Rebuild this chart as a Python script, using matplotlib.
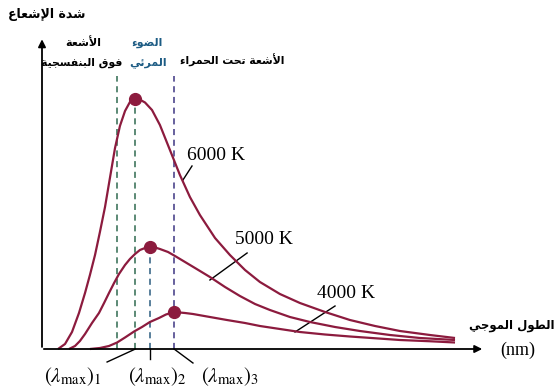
import numpy as np
import matplotlib
matplotlib.use("Agg")
import matplotlib.pyplot as plt

plt.rcParams["mathtext.fontset"] = "stix"

# intensity (arbitrary units) against wavelength (nm) for three temperatures
wl_6000 = [85, 122, 159, 196, 228, 254, 281, 307, 334, 360, 387, 413, 440, 466, 495,
           520, 546, 583, 625, 678, 731, 784, 837, 917, 996, 1076, 1155, 1261, 1367, 1500,
           1632, 1765, 1897, 2056, 2189]
i_6000 = [0, 2, 6.8, 14.4, 22.4, 29.6, 37.6, 46.8, 56.8, 68.4, 80.4, 89.2, 95.2, 98.8, 100,
          99.7, 98.6, 95.6, 89.6, 79.6, 69.6, 60.8, 53.6, 44.4, 37.6, 31.6, 26.8, 22, 18.4,
          14.8, 11.6, 9.2, 7.2, 5.6, 4.4]

wl_5000 = [143, 175, 201, 228, 265, 302, 329, 355, 382, 408, 440, 466, 493, 519, 546,
           570, 599, 625, 668, 705, 758, 811, 890, 970, 1049, 1129, 1208, 1314, 1420,
           1553, 1685, 1844, 2003, 2189]
i_5000 = [0, 1.2, 3.2, 6, 10.4, 14.4, 18.4, 22.4, 26.4, 30, 33.6, 36, 38, 39.6, 40.4,
          40.8, 40.6, 40, 38.8, 37.2, 34.8, 32.4, 28.8, 24.8, 21.2, 18, 15.6, 12.8, 10.8,
          8.8, 7.2, 5.6, 4.4, 3.6]

wl_4000 = [254, 307, 355, 398, 440, 488, 530, 572, 620, 657, 700, 758, 800, 890, 980,
           1076, 1155, 1261, 1367, 1500, 1632, 1765, 1897, 2056, 2189]
i_4000 = [0, 0.4, 1.2, 2.6, 4.6, 7, 8.8, 10.8, 12.4, 13.8, 14.8, 14.4, 14, 12.8, 11.6,
          10.4, 9.2, 8, 6.8, 5.8, 5, 4.3, 3.6, 3.1, 2.6]

temps = ["6000 K", "5000 K", "4000 K"]
uv_edge = 400   # visible band limits
ir_edge = 700

# Arabic presentation forms: isolated, final, initial, medial
FORMS = {
    "\u0621": ("\uFE80", None, None, None),
    "\u0623": ("\uFE83", "\uFE84", None, None),
    "\u0625": ("\uFE87", "\uFE88", None, None),
    "\u0626": ("\uFE89", "\uFE8A", "\uFE8B", "\uFE8C"),
    "\u0627": ("\uFE8D", "\uFE8E", None, None),
    "\u0628": ("\uFE8F", "\uFE90", "\uFE91", "\uFE92"),
    "\u0629": ("\uFE93", "\uFE94", None, None),
    "\u062A": ("\uFE95", "\uFE96", "\uFE97", "\uFE98"),
    "\u062C": ("\uFE9D", "\uFE9E", "\uFE9F", "\uFEA0"),
    "\u062D": ("\uFEA1", "\uFEA2", "\uFEA3", "\uFEA4"),
    "\u062F": ("\uFEA9", "\uFEAA", None, None),
    "\u0631": ("\uFEAD", "\uFEAE", None, None),
    "\u0633": ("\uFEB1", "\uFEB2", "\uFEB3", "\uFEB4"),
    "\u0634": ("\uFEB5", "\uFEB6", "\uFEB7", "\uFEB8"),
    "\u0636": ("\uFEBD", "\uFEBE", "\uFEBF", "\uFEC0"),
    "\u0637": ("\uFEC1", "\uFEC2", "\uFEC3", "\uFEC4"),
    "\u0639": ("\uFEC9", "\uFECA", "\uFECB", "\uFECC"),
    "\u0641": ("\uFED1", "\uFED2", "\uFED3", "\uFED4"),
    "\u0642": ("\uFED5", "\uFED6", "\uFED7", "\uFED8"),
    "\u0644": ("\uFEDD", "\uFEDE", "\uFEDF", "\uFEE0"),
    "\u0645": ("\uFEE1", "\uFEE2", "\uFEE3", "\uFEE4"),
    "\u0646": ("\uFEE5", "\uFEE6", "\uFEE7", "\uFEE8"),
    "\u0648": ("\uFEED", "\uFEEE", None, None),
    "\u064A": ("\uFEF1", "\uFEF2", "\uFEF3", "\uFEF4"),
}
LAM_ALEF = {"\u0622": ("\uFEF5", "\uFEF6"), "\u0623": ("\uFEF7", "\uFEF8"),
            "\u0625": ("\uFEF9", "\uFEFA"), "\u0627": ("\uFEFB", "\uFEFC")}


def ar(text):
    # matplotlib has no Arabic shaping, so pick the joined forms by hand
    chars = []
    i = 0
    while i < len(text):
        if text[i] == "\u0644" and i + 1 < len(text) and text[i + 1] in LAM_ALEF:
            chars.append(("la", text[i + 1]))
            i += 2
        else:
            chars.append(text[i])
            i += 1

    def joins_next(c):
        if isinstance(c, tuple):
            return False
        f = FORMS.get(c)
        return f is not None and f[2] is not None

    def joins_prev(c):
        if isinstance(c, tuple):
            return True
        f = FORMS.get(c)
        return f is not None and f[1] is not None

    out = []
    for k, c in enumerate(chars):
        prev = chars[k - 1] if k > 0 else None
        nxt = chars[k + 1] if k + 1 < len(chars) else None
        p = prev is not None and joins_next(prev) and joins_prev(c)
        if isinstance(c, tuple):
            out.append(LAM_ALEF[c[1]][1 if p else 0])
            continue
        f = FORMS.get(c)
        if f is None:
            out.append(c)
            continue
        n = nxt is not None and joins_next(c) and joins_prev(nxt)
        if p and n:
            out.append(f[3])
        elif p:
            out.append(f[1])
        elif n:
            out.append(f[2])
        else:
            out.append(f[0])
    return "".join(reversed(out))


curve_col = "#8c1b3e"
fig = plt.figure(figsize=(5.58, 3.92), dpi=100)
ax = fig.add_axes([0, 0, 1, 1])
ax.set_xlim(-222.6, 2734.8)
ax.set_ylim(-17.2, 139.6)
ax.axis("off")

series = [(wl_6000, i_6000), (wl_5000, i_5000), (wl_4000, i_4000)]
peaks = []
for wl, inten in series:
    ax.plot(wl, inten, color=curve_col, lw=1.6, solid_capstyle="butt",
            solid_joinstyle="round", zorder=3)
    k = int(np.argmax(inten))
    peaks.append((wl[k], inten[k]))
    ax.plot(wl[k], inten[k], "o", color=curve_col, ms=8.5, zorder=4)

# band limits and peak wavelengths
dash = dict(lw=1.1, ls=(0, (4, 3)), zorder=2)
ax.plot([uv_edge, uv_edge], [0, 109.2], color="#2f6a4f", **dash)
ax.plot([ir_edge, ir_edge], [0, 109.2], color="#3d3582", **dash)
ax.plot([peaks[0][0]] * 2, [0, peaks[0][1]], color="#2f6a4f", **dash)
ax.plot([peaks[1][0]] * 2, [0, peaks[1][1]], color="#2b5c80", **dash)

# axes with arrow heads
arrow = dict(arrowstyle="-|>", color="black", lw=1.3, mutation_scale=11)
ax.annotate("", xy=(0, 125), xytext=(0, -0.3), arrowprops=arrow)
ax.annotate("", xy=(2348, 0), xytext=(-5, 0), arrowprops=arrow)

serif = "Liberation Serif"
ax.text(768, 77.2, temps[0], fontsize=14, family=serif, va="center", ha="left")
ax.plot([747, 795], [67.6, 73.2], color="black", lw=1)
ax.text(1023, 43.6, temps[1], fontsize=14, family=serif, va="center", ha="left")
ax.plot([890, 1087], [27.6, 38.4], color="black", lw=1)
ax.text(1458, 22, temps[2], fontsize=14, family=serif, va="center", ha="left")
ax.plot([1341, 1553], [6.8, 17.2], color="black", lw=1)

# peak wavelength labels under the axis
ax.text(164, -11, r"$(\lambda_{\mathrm{max}})_1$", fontsize=15, ha="center", va="center")
ax.plot([345, peaks[0][0]], [-5.2, 0], color="black", lw=1)
ax.text(610, -11, r"$(\lambda_{\mathrm{max}})_2$", fontsize=15, ha="center", va="center")
ax.plot([peaks[1][0]] * 2, [0, -4], color="black", lw=1)
ax.text(996, -11, r"$(\lambda_{\mathrm{max}})_3$", fontsize=15, ha="center", va="center")
ax.plot([peaks[2][0], 800], [0, -5.6], color="black", lw=1)

bold = dict(fontweight="bold", family="DejaVu Sans", va="center")
ax.text(26.5, 133.6, ar("شدة الإشعاع"), fontsize=9, ha="center", **bold)
ax.text(217, 122.4, ar("الأشعة"), fontsize=8, ha="center", **bold)
ax.text(212, 114.4, ar("فوق البنفسجية"), fontsize=7.8, ha="center", **bold)
ax.text(556, 122.4, ar("الضوء"), fontsize=8, ha="center", color="#1d5c84", **bold)
ax.text(562, 114.4, ar("المرئي"), fontsize=8, ha="center", color="#1d5c84", **bold)
ax.text(1007, 115.6, ar("الأشعة تحت الحمراء"), fontsize=7.8, ha="center", **bold)
ax.text(2718, 9.6, ar("الطول الموجي"), fontsize=8.5, ha="right", **bold)
ax.text(2523, -0.4, "(nm)", fontsize=13, family=serif, ha="center", va="center")

fig.savefig("out.png", dpi=100)
